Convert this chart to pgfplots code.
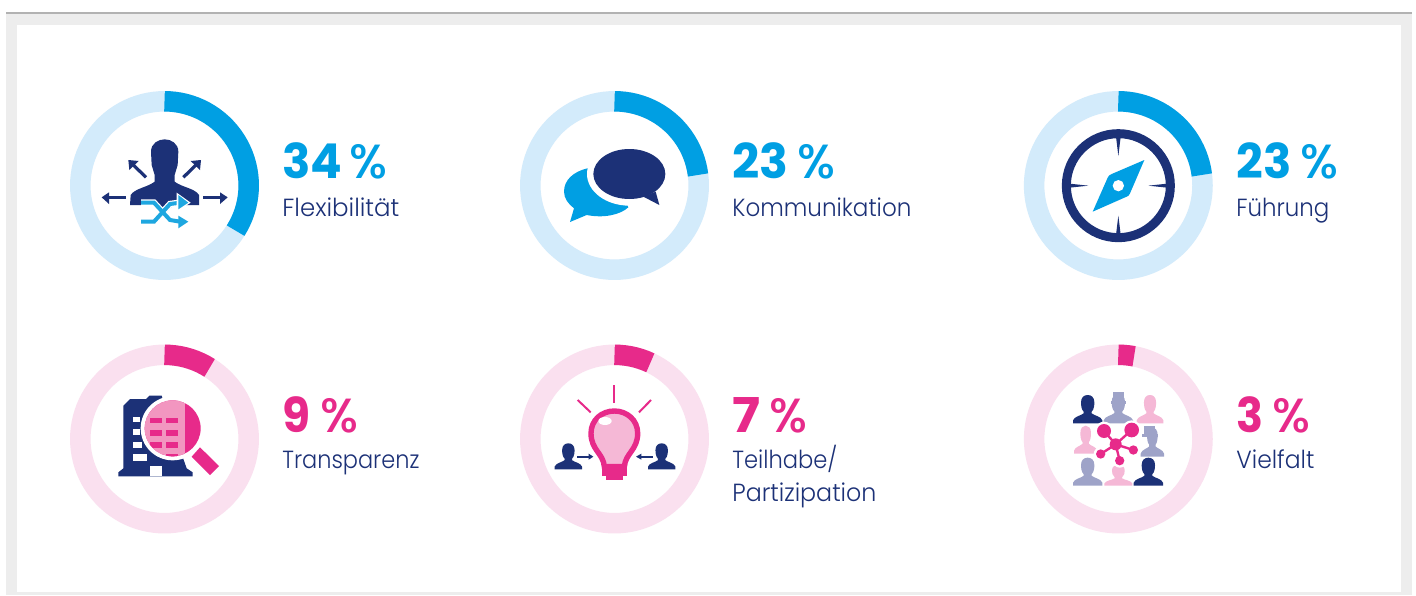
\documentclass[border=0pt]{standalone}
\usepackage{pgfplots}
\usepackage{pgfplotstable}
\usepackage{graphicx}
\pgfplotsset{compat=1.18}
\usepackage{fontspec}
\setmainfont{Poppins Light}[BoldFont=Poppins Bold]
\newfontfamily\pctfont{Poppins Medium}
\definecolor{navy}{HTML}{1C3177}
\definecolor{blue}{HTML}{009FE3}
\definecolor{blue2}{HTML}{1EA7E0}
\definecolor{lblue}{HTML}{D3EBFB}
\definecolor{pink}{HTML}{E72A8A}
\definecolor{lpink}{HTML}{FAE0EF}
\definecolor{mpink}{HTML}{F5B8D6}
\definecolor{rpink}{HTML}{F296C0}
\definecolor{lav}{HTML}{9EA3C8}
% reference pixels -> page, 1 px = 0.5 pt
\tikzset{
  zoomat/.style 2 args={shift={({#1*0.5pt},{297.5pt-#2*0.5pt})},x=0.166667pt,y=-0.166667pt},
}
% unit circle per percent, clockwise from the top
\pgfplotstableread{
p s c
0 0 1
1 .06279 .99803
2 .12533 .99211
3 .18738 .98229
4 .24869 .96858
5 .30902 .95106
6 .36812 .92978
7 .42578 .90483
8 .48175 .87631
9 .53583 .84433
10 .58779 .80902
11 .63742 .77051
12 .68455 .72897
13 .72897 .68455
14 .77051 .63742
15 .80902 .58779
16 .84433 .53583
17 .87631 .48175
18 .90483 .42578
19 .92978 .36812
20 .95106 .30902
21 .96858 .24869
22 .98229 .18738
23 .99211 .12533
24 .99803 .06279
25 1 0
26 .99803 -.06279
27 .99211 -.12533
28 .98229 -.18738
29 .96858 -.24869
30 .95106 -.30902
31 .92978 -.36812
32 .90483 -.42578
33 .87631 -.48175
34 .84433 -.53583
35 .80902 -.58779
36 .77051 -.63742
37 .72897 -.68455
38 .68455 -.72897
39 .63742 -.77051
40 .58779 -.80902
41 .53583 -.84433
42 .48175 -.87631
43 .42578 -.90483
44 .36812 -.92978
45 .30902 -.95106
46 .24869 -.96858
47 .18738 -.98229
48 .12533 -.99211
49 .06279 -.99803
50 0 -1
51 -.06279 -.99803
52 -.12533 -.99211
53 -.18738 -.98229
54 -.24869 -.96858
55 -.30902 -.95106
56 -.36812 -.92978
57 -.42578 -.90483
58 -.48175 -.87631
59 -.53583 -.84433
60 -.58779 -.80902
61 -.63742 -.77051
62 -.68455 -.72897
63 -.72897 -.68455
64 -.77051 -.63742
65 -.80902 -.58779
66 -.84433 -.53583
67 -.87631 -.48175
68 -.90483 -.42578
69 -.92978 -.36812
70 -.95106 -.30902
71 -.96858 -.24869
72 -.98229 -.18738
73 -.99211 -.12533
74 -.99803 -.06279
75 -1 0
76 -.99803 .06279
77 -.99211 .12533
78 -.98229 .18738
79 -.96858 .24869
80 -.95106 .30902
81 -.92978 .36812
82 -.90483 .42578
83 -.87631 .48175
84 -.84433 .53583
85 -.80902 .58779
86 -.77051 .63742
87 -.72897 .68455
88 -.68455 .72897
89 -.63742 .77051
90 -.58779 .80902
91 -.53583 .84433
92 -.48175 .87631
93 -.42578 .90483
94 -.36812 .92978
95 -.30902 .95106
96 -.24869 .96858
97 -.18738 .98229
98 -.12533 .99211
99 -.06279 .99803
100 0 1
}\ringtable
% x, y, value, ring colour, arc colour
\newcommand{\ring}[5]{%
  \addplot[#4, line width=10.25pt, no marks, line cap=butt, line join=round]
    table[x expr=#1+84.2*\thisrow{s}, y expr=#2-84.2*\thisrow{c}] {\ringtable};
  \addplot[#5, line width=10.25pt, no marks, line cap=butt, line join=round,
    skip coords between index={\the\numexpr#3+1\relax}{101}]
    table[x expr=#1+84.2*\thisrow{s}, y expr=#2-84.2*\thisrow{c}] {\ringtable};
}
% small person, x of the middle, top, half width, height
\newcommand{\person}[5][navy]{%
  \begin{scope}[shift={(#2,#3)},xscale=#4/44,yscale=#5/85]
    \fill[#1] (-44,85) -- (-44,76) .. controls (-40,64) and (-20,62) .. (-12,55)
      -- (-12,50) .. controls (-19,44) and (-20,30) .. (-20,22)
      .. controls (-20,7) and (-11,0) .. (0,0)
      .. controls (11,0) and (20,7) .. (20,22)
      .. controls (20,30) and (19,44) .. (12,50) -- (12,55)
      .. controls (20,62) and (40,64) .. (44,76) -- (44,85) -- cycle;
  \end{scope}}
% digit width, digits, gap to the percent sign
\newcommand{\numb}[3]{\fontsize{24pt}{24pt}\selectfont
  \resizebox{#1pt}{\height}{\bfseries #2}\kern#3pt\resizebox{19pt}{\height}{\pctfont\%}}
\newcommand{\lab}[2]{\resizebox{#1pt}{\height}{\fontsize{12.4pt}{12.4pt}\selectfont #2}}
\begin{document}
\begin{tikzpicture}
\begin{scope}[x=0.5pt,y=-0.5pt,yshift=297.5pt]
  \fill[white] (0,0) rectangle (1416,595);
  \fill[black!7] (6,13) rectangle (1412,595);
  \fill[black!30] (6,12) rectangle (1412,14.5);
  \fill[white] (17,25) rectangle (1401,592);
\end{scope}
\begin{axis}[
  scale only axis, width=708pt, height=297.5pt,
  xmin=0, xmax=1416, ymin=0, ymax=595, y dir=reverse,
  hide axis, clip=false,
]
\ring{164.5}{185.5}{34}{lblue}{blue}
\ring{614.5}{185.5}{23}{lblue}{blue}
\ring{1118.3}{185.5}{23}{lblue}{blue}
\ring{164.5}{439}{9}{lpink}{pink}
\ring{614.5}{439}{7}{lpink}{pink}
\ring{1118.3}{439}{3}{lpink}{pink}
\end{axis}

% numbers and names, widths from the reference
\begin{scope}[x=0.5pt,y=-0.5pt,yshift=297.5pt,every node/.style={anchor=base west,inner sep=0pt}]
  \node[blue] at (282,179) {\numb{30}{34}{3.5}};
  \node[navy] at (282,216) {\lab{58.5}{Flexibilität}};
  \node[blue] at (732,179) {\numb{28}{23}{4.5}};
  \node[navy] at (732,216) {\lab{89.5}{Kommunikation}};
  \node[blue] at (1236,179) {\numb{27.5}{23}{4.5}};
  \node[navy] at (1236,216) {\lab{46.5}{Führung}};
  \node[pink] at (282,432) {\numb{14}{9}{5}};
  \node[navy] at (282,468) {\lab{68.5}{Transparenz}};
  \node[pink] at (732,432) {\numb{14}{7}{4.5}};
  \node[navy] at (732,468) {\lab{52.5}{Teilhabe/}};
  \node[navy] at (732,501) {\lab{72}{Partizipation}};
  \node[pink] at (1236,432) {\numb{13.5}{3}{4.5}};
  \node[navy] at (1236,468) {\lab{39}{Vielfalt}};
\end{scope}

% flexibility icon
\begin{scope}[zoomat={60}{80}]
  \fill[navy] (210,375) -- (212,345) .. controls (225,325) and (262,322) .. (284,305)
    -- (284,285) -- (275,255) -- (273,215) .. controls (273,190) and (295,178) .. (314,178)
    .. controls (333,178) and (355,190) .. (355,215) -- (353,255) -- (344,285) -- (344,305)
    .. controls (366,322) and (405,325) .. (417,345) -- (417,375) -- (340,375) -- (314,400) -- (288,375) -- cycle;
  \draw[white,line width=3.2pt] (243,368) -- (282,368) -- (330,420) -- (360,425);
  \draw[white,line width=3.2pt] (243,425) -- (282,425) -- (330,372) -- (360,368);
  \draw[blue2,line width=2pt] (243,368) -- (282,368) -- (330,420) -- (360,425);
  \draw[blue2,line width=2pt] (243,425) -- (282,425) -- (330,372) -- (360,368);
  \fill[white] (350,338) -- (392,368) -- (350,395) -- cycle;
  \fill[blue2] (355,345) -- (385,368) -- (355,388) -- cycle;
  \fill[blue2] (355,407) -- (385,425) -- (355,445) -- cycle;
  \draw[navy,line width=1.6pt] (198,352) -- (145,352);
  \fill[navy] (147,337) -- (125,352) -- (147,372) -- cycle;
  \draw[navy,line width=1.6pt] (430,352) -- (482,352);
  \fill[navy] (480,337) -- (503,352) -- (480,372) -- cycle;
  \draw[navy,line width=1.6pt] (258,292) -- (220,255);
  \fill[navy] (205,240) -- (236,243) -- (208,270) -- cycle;
  \draw[navy,line width=1.6pt] (370,292) -- (408,255);
  \fill[navy] (423,240) -- (392,243) -- (420,270) -- cycle;
\end{scope}

% speech bubbles
\begin{scope}[zoomat={510}{80}]
  \fill[blue] (232,265) .. controls (190,275) and (162,300) .. (162,335)
    .. controls (162,355) and (175,372) .. (192,385) -- (180,426) -- (230,405)
    .. controls (280,415) and (330,405) .. (355,382) -- (320,300) -- cycle;
  \fill[white] (358,282) ellipse [x radius=127,y radius=95];
  \fill[navy] (358,282) ellipse [x radius=108,y radius=75];
  \fill[navy] (400,350) -- (448,375) -- (437,335) -- cycle;
\end{scope}

% compass
\begin{scope}[zoomat={1015}{80}]
  \draw[navy,line width=4.5pt] (310,317) circle [radius=156];
  \fill[navy] (303,170) -- (317,170) -- (310,228) -- cycle;
  \fill[navy] (303,464) -- (317,464) -- (310,407) -- cycle;
  \fill[navy] (164,311) -- (164,323) -- (220,317) -- cycle;
  \fill[navy] (456,311) -- (456,323) -- (400,317) -- cycle;
  \fill[blue] (388,240) -- (345,340) .. controls (342,347) and (340,348) .. (335,350)
    -- (233,395) -- (278,293) .. controls (281,287) and (283,285) .. (290,282) -- cycle;
  \fill[white] (310,317) circle [radius=17];
\end{scope}

% building under a lens
\begin{scope}[zoomat={60}{335}]
  \fill[navy] (190,400) -- (190,212) -- (210,192) -- (258,192) -- (268,182) -- (305,182)
    -- (320,230) -- (380,400) -- (398,412) -- (398,424) -- (175,424) -- (175,412) -- cycle;
  \fill[white] (270,392) rectangle (305,424);
  \fill[white] (220,245) rectangle (240,262);
  \fill[white] (220,283) rectangle (240,300);
  \fill[white] (220,322) rectangle (245,340);
  \fill[white] (220,358) rectangle (260,378);
  \fill[white] (338,280) circle [radius=96];
  \fill[pink] (338,280) circle [radius=84];
  \begin{scope}
    \clip (338,280) circle [radius=84];
    \fill[rpink] (250,190) rectangle (375,370);
    \foreach \yy in {248,285,322,358}{
      \fill[pink] (270,\yy) rectangle (306,\yy+17);
      \fill[pink] (318,\yy) rectangle (354,\yy+17);
    }
  \end{scope}
  \fill[pink] (395,365) -- (420,337) -- (477,393) -- (450,420) -- cycle;
\end{scope}

% bulb with two people
\begin{scope}[zoomat={510}{335}]
  \draw[pink,line width=1pt] (313,150) -- (313,205);
  \draw[pink,line width=1pt] (203,195) -- (242,232);
  \draw[pink,line width=1pt] (423,195) -- (387,232);
  \draw[pink,fill=mpink,line width=2.7pt] (283,395) .. controls (280,355) and (243,345) .. (243,295)
    .. controls (243,255) and (275,228) .. (313,228)
    .. controls (351,228) and (383,255) .. (383,295)
    .. controls (383,345) and (346,355) .. (343,395) -- cycle;
  \fill[white] (285,258) ellipse [x radius=20,y radius=12];
  \fill[pink] (277,395) rectangle (350,422);
  \fill[pink] (288,420) rectangle (340,435);
  \person{175}{325}{41}{78}
  \person{455}{325}{41}{78}
  \draw[navy,line width=0.9pt] (202,365) -- (238,365);
  \fill[navy] (236,356) -- (250,365) -- (236,374) -- cycle;
  \draw[navy,line width=0.9pt] (428,365) -- (392,365);
  \fill[navy] (394,356) -- (378,365) -- (394,374) -- cycle;
\end{scope}

% people joined by a network
\begin{scope}[zoomat={1015}{335}]
  \person{218}{180}{44}{85}
  \person[lav]{310}{178}{44}{87}
  \fill[lav] (287,197) rectangle (333,207);
  \fill[lav] (293,172) rectangle (327,200);
  \person[mpink]{405}{180}{40}{85}
  \person[mpink]{212}{272}{35}{84}
  \person[lav]{412}{278}{35}{87}
  \fill[lav] (380,298) rectangle (428,306);
  \fill[lav] (388,272) rectangle (420,300);
  \person[lav]{218}{368}{44}{84}
  \person[mpink]{310}{390}{42}{62}
  \person{400}{368}{44}{84}
  \foreach \px/\py/\r in {267/288/21,350/285/22,257/357/14,355/345/14,314/377/14}{
    \draw[white,line width=2.8pt] (302,328) -- (\px,\py);
    \fill[white] (\px,\py) circle [radius=\r+7];
  }
  \fill[white] (302,328) circle [radius=24];
  \foreach \px/\py/\r in {267/288/21,350/285/22,257/357/14,355/345/14,314/377/14}{
    \draw[pink,line width=1.2pt] (302,328) -- (\px,\py);
    \fill[pink] (\px,\py) circle [radius=\r];
  }
  \fill[pink] (302,328) circle [radius=18];
\end{scope}
\end{tikzpicture}
\end{document}
